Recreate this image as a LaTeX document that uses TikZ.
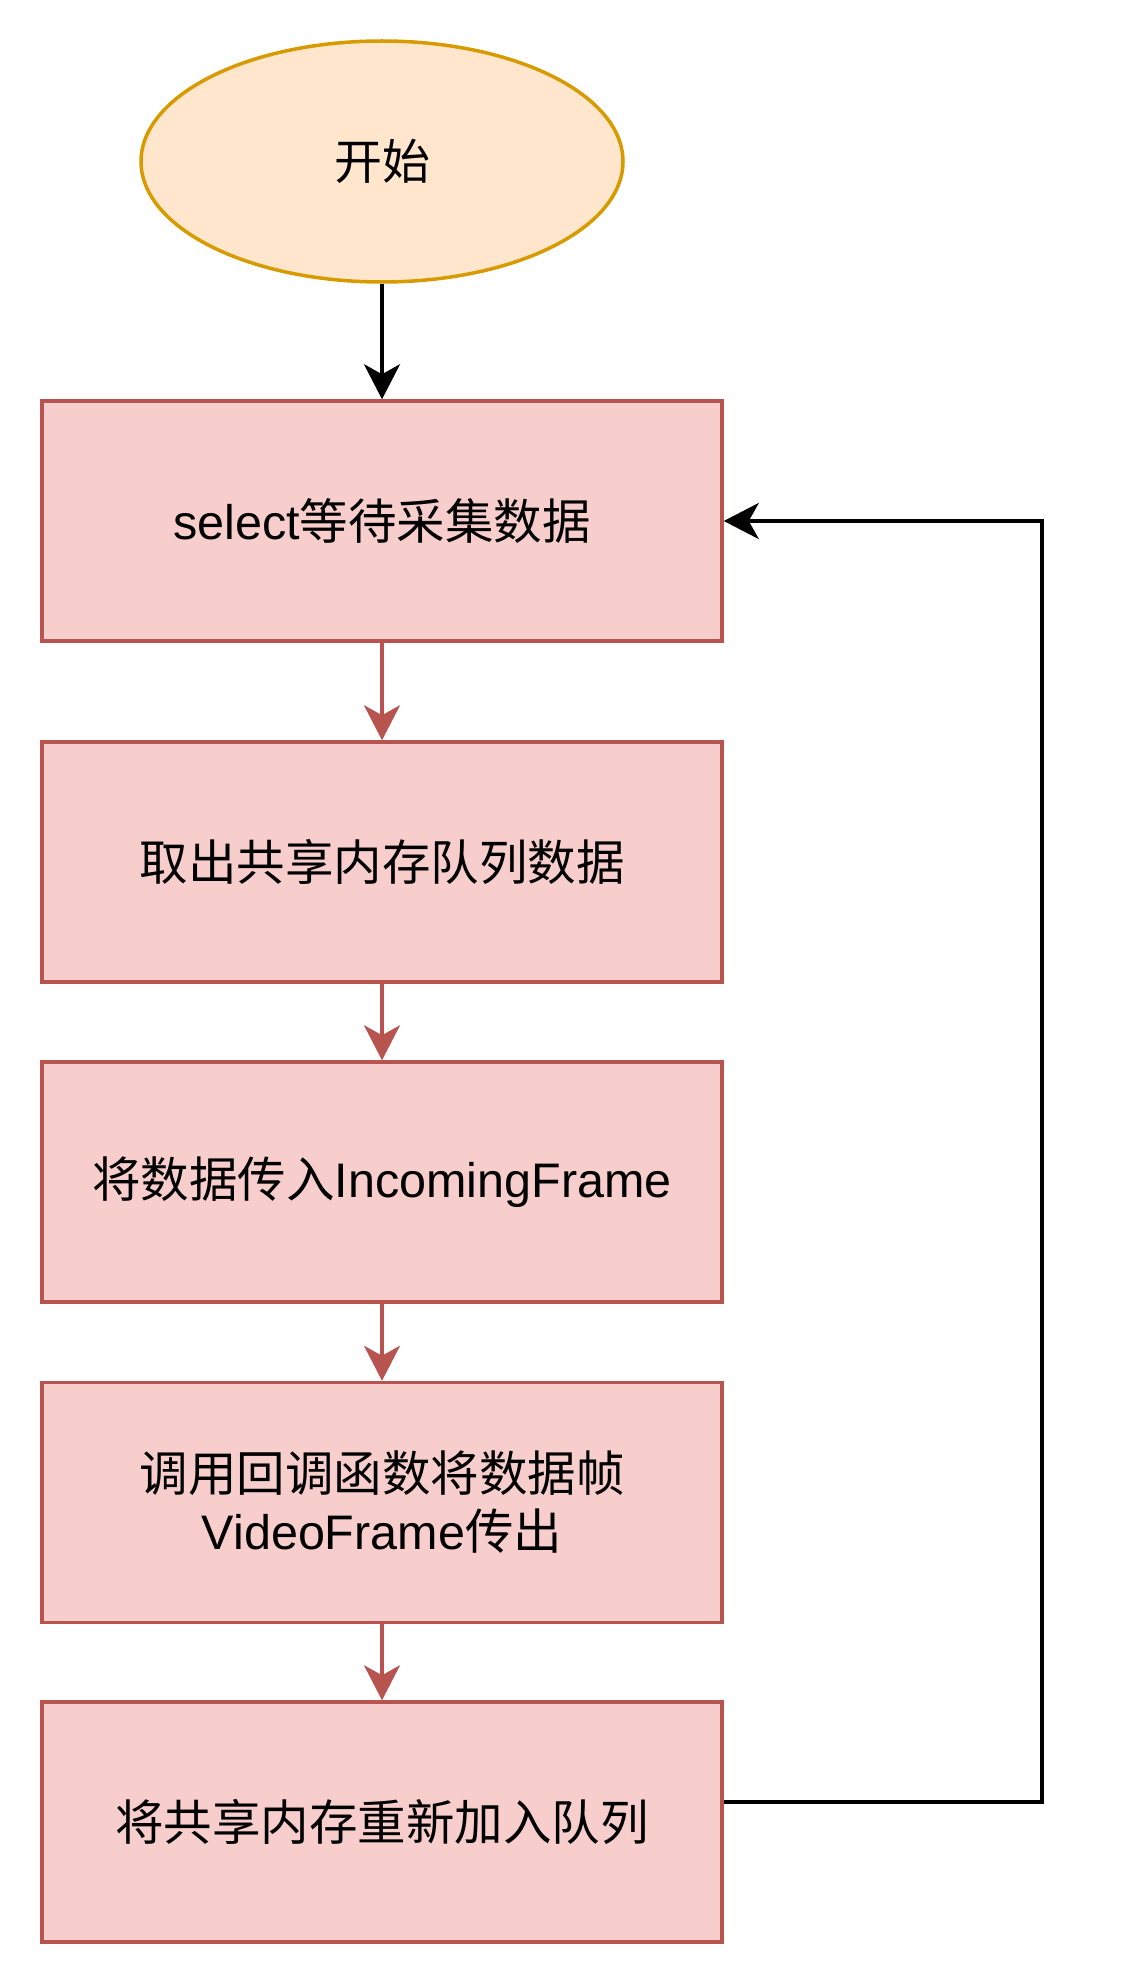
\documentclass[tikz,border=0pt]{standalone}
\usepackage{fontspec}
\setmainfont{Liberation Sans}
\newfontfamily\cjk{Noto Sans CJK SC}
\usetikzlibrary{shapes.geometric,arrows.meta}
\definecolor{startfill}{HTML}{FFE6CC}
\definecolor{startdraw}{HTML}{D79B00}
\definecolor{boxfill}{HTML}{F8CECC}
\definecolor{boxdraw}{HTML}{B85450}
\tikzset{
  startnode/.style={ellipse, draw=startdraw, fill=startfill, line width=3.5pt, minimum width=482pt, minimum height=241pt, inner sep=0pt, font=\fontsize{48pt}{58pt}\selectfont},
  stepbox/.style={rectangle, draw=boxdraw, fill=boxfill, line width=3.5pt, minimum width=680pt, minimum height=240pt, inner sep=0pt, align=center, font=\fontsize{48.5pt}{58pt}\selectfont},
  redarrow/.style={draw=boxdraw, line width=3.5pt, -{Stealth[length=35pt, width=36pt, inset=10pt]}},
  blackarrow/.style={draw=black, line width=4pt, -{Stealth[length=35pt, width=36pt, inset=10pt]}}
}
\begin{document}
\begin{tikzpicture}[x=1pt,y=-1pt]
\useasboundingbox (0,0) rectangle (1120,1988);
\node[startnode] (start) at (382,161.5) {\cjk 开始};
\node[stepbox] (b1) at (382,521) {select\cjk 等待采集数据};
\node[stepbox] (b2) at (382,862) {\cjk 取出共享内存队列数据};
\node[stepbox] (b3) at (382,1182) {{\cjk 将数据传入}IncomingFrame};
\node[stepbox] (b4) at (382,1502.5) {{\cjk 调用回调函数将数据帧}\\VideoFrame{\cjk 传出}};
\node[stepbox] (b5) at (382,1822) {\cjk 将共享内存重新加入队列};
\coordinate (corner1) at (1041.5,1801.5);
\coordinate (corner2) at (1041.5,521);
\draw[blackarrow] (start) -- (b1);
\draw[redarrow] (b1) -- (b2);
\draw[redarrow] (b2) -- (b3);
\draw[redarrow] (b3) -- (b4);
\draw[redarrow] (b4) -- (b5);
\draw[blackarrow] (b5.east |- corner1) -- (corner1) -- (corner2) -- (b1.east);
\end{tikzpicture}
\end{document}
